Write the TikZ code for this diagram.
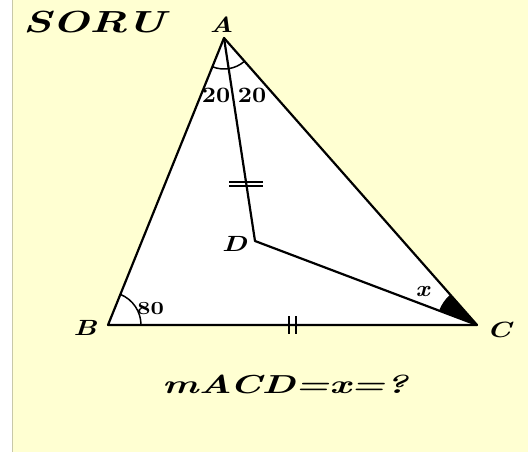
\documentclass[tikz,border=0pt]{standalone}
\usepackage{graphicx}
\definecolor{soruyellow}{HTML}{FFFFD2}
\definecolor{sorurule}{HTML}{C8C8A8}
\usetikzlibrary{angles,calc}
% text set at 10pt, then scaled to size (x, y)
\newcommand{\stretchtext}[3]{\scalebox{#1}[#2]{#3}}

\begin{document}
\begin{tikzpicture}[x=1pt, y=1pt,
  side/.style={line width=2.2pt, line join=round},
  vlabel/.style={font=\normalsize\bfseries\itshape, inner sep=0pt},
  alabel/.style={font=\normalsize\bfseries, inner sep=0pt},
  eqmark/.style={line width=1.8pt}
]
% Page and background
\useasboundingbox (0,0) rectangle (528,452);
\fill[white] (0,0) rectangle (528,452);
\fill[soruyellow] (12,0) rectangle (528,452);
\draw[sorurule, line width=1pt] (12,0) -- (12,452);

% Vertices
\coordinate (A) at (224,414);
\coordinate (B) at (108,127);
\coordinate (C) at (477,127);
\coordinate (D) at (255,211);

% Triangle
\fill[white] (A) -- (B) -- (C) -- cycle;
\draw[side] (A) -- (B) -- (C) -- cycle;
\draw[side] (A) -- (D) -- (C);

% Angle marks
\pic[draw, line width=1.5pt, angle radius=31pt] {angle=B--A--C};
\pic[draw, line width=1.5pt, angle radius=33pt] {angle=C--B--A};
\pic[draw, fill=black, line width=1pt, angle radius=40pt] {angle=A--C--D};

% Equal length marks
\coordinate (mAD) at ($(A)!0.719!(D)$);
\draw[eqmark] ($(mAD)+(-17,2.2)$) -- ++(34,0);
\draw[eqmark] ($(mAD)+(-17,-2.2)$) -- ++(34,0);
\coordinate (mBC) at ($(B)!0.5!(C)$);
\draw[eqmark] ($(mBC)+(-3.5,-9)$) -- ++(0,18);
\draw[eqmark] ($(mBC)+(3.5,-9)$) -- ++(0,18);

% Labels
\node[vlabel] (soru) at (94,429.5) {\stretchtext{4.42}{3.05}{SORU}};
\node[vlabel] (lA) at (221.5,427.5) {\stretchtext{2.75}{2.2}{A}};
\node[vlabel] (lB) at (85,124.5) {\stretchtext{2.86}{2.2}{B}};
\node[vlabel] (lC) at (499,122) {\stretchtext{2.97}{2.2}{C}};
\node[vlabel] (lD) at (234.5,208.5) {\stretchtext{2.86}{2.2}{D}};
\node[alabel] (a1) at (216,357) {\stretchtext{2.46}{2.2}{20}};
\node[alabel] (a2) at (252,357) {\stretchtext{2.46}{2.2}{20}};
\node[alabel] (aB) at (150.5,143) {\stretchtext{2.33}{1.85}{80}};
\node[vlabel] (aC) at (422.5,160) {\stretchtext{2.48}{2.25}{x}};
\node[vlabel] (q) at (285,68) {\stretchtext{3.85}{2.6}{mACD=x=?}};
\end{tikzpicture}
\end{document}
